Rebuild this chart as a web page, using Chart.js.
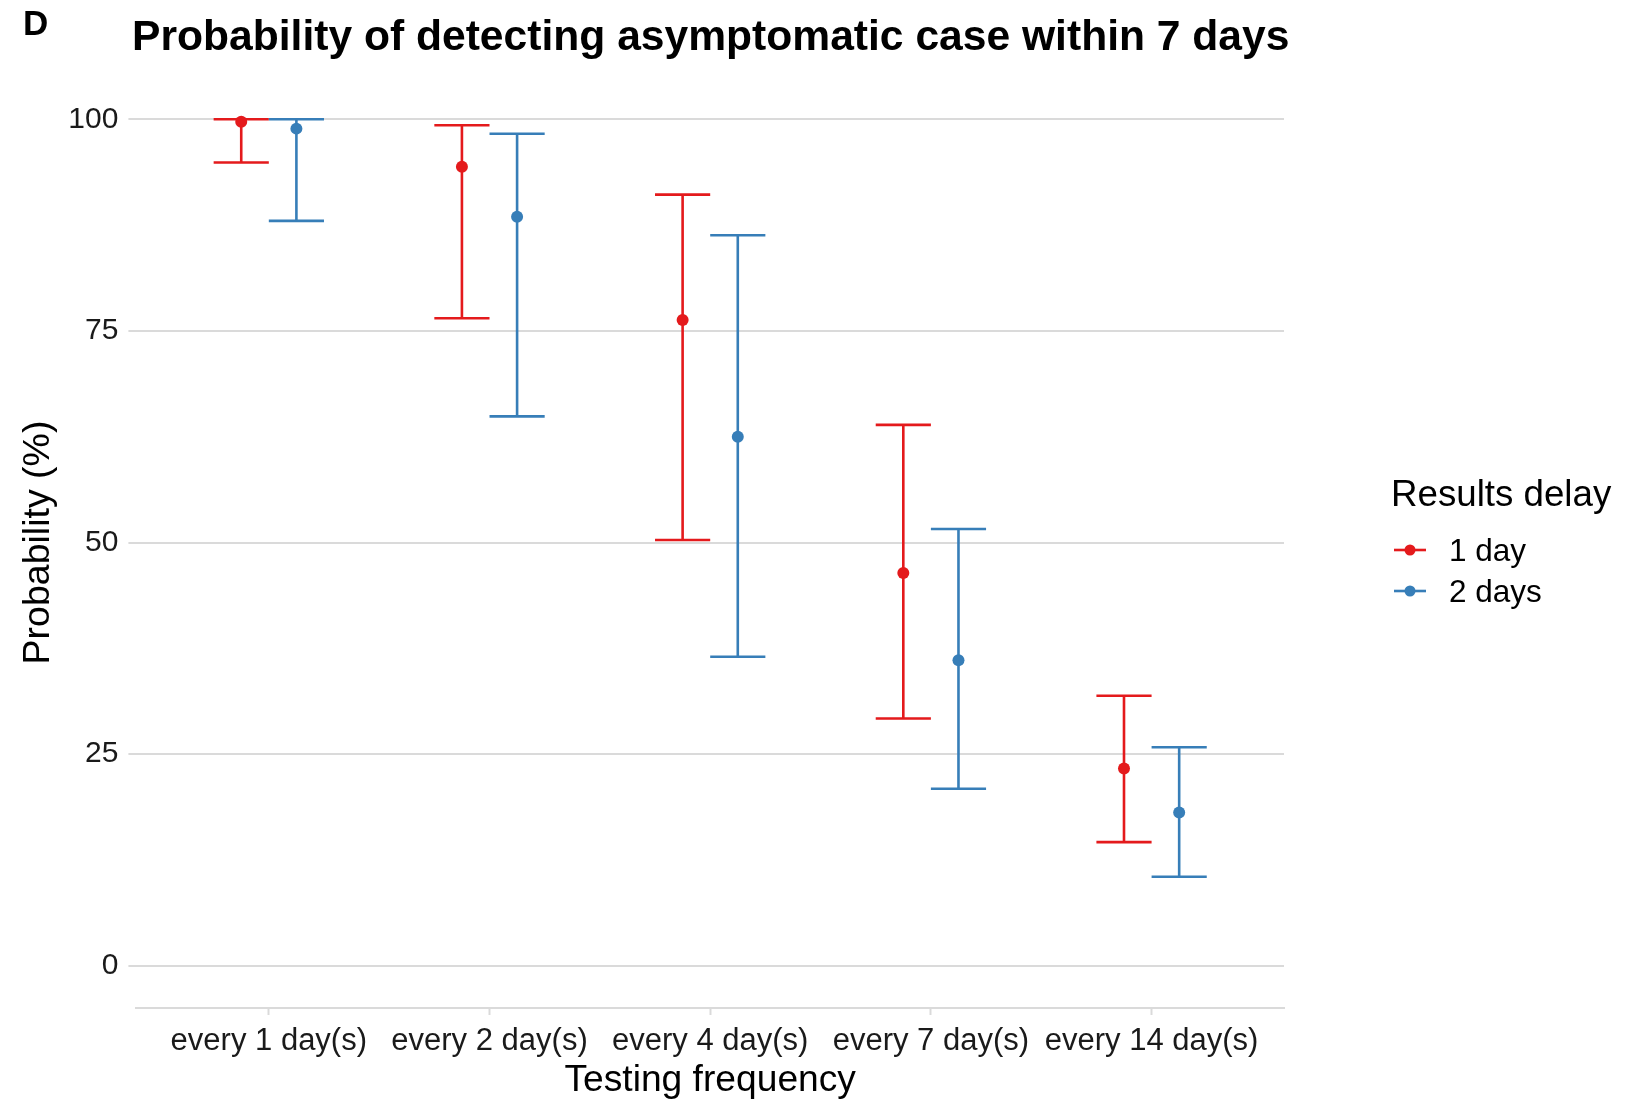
<!DOCTYPE html>
<html lang="en">
<head>
<meta charset="UTF-8">
<title>Probability of detecting asymptomatic case within 7 days</title>
<script src="https://cdn.jsdelivr.net/npm/chart.js"></script>
<style>
  body { margin: 0; background: #fff; }
  #wrap { width: 1642px; height: 1102px; }
</style>
</head>
<body>
<div id="wrap"><canvas id="chart" width="1642" height="1102"></canvas></div>
<script>
// testing frequency on x, two results-delay groups
const categories = ['every 1 day(s)', 'every 2 day(s)', 'every 4 day(s)', 'every 7 day(s)', 'every 14 day(s)'];
const delayLabels = ['1 day', '2 days'];
const oneDayMean = [99.7, 94.4, 76.3, 46.4, 23.3];
const oneDayLow = [94.9, 76.5, 50.3, 29.2, 14.6];
const oneDayHigh = [100, 99.3, 91.1, 63.9, 31.9];
const twoDayMean = [98.9, 88.5, 62.5, 36.1, 18.1];
const twoDayLow = [88.0, 64.9, 36.5, 20.9, 10.5];
const twoDayHigh = [100, 98.3, 86.3, 51.6, 25.8];
const yTicks = [0, 25, 50, 75, 100];

const RED = '#E41A1C';
const BLUE = '#377EB8';
const GRID = '#DADADA';
const FONT = "'Liberation Sans', Arial, sans-serif";
const dodge = 0.125;   // half of dodge width, in category units
const capHalf = 0.125; // error bar cap half width

function makePoints(mean, low, high, shift) {
    return mean.map((m, i) => ({ x: i + 1 + shift, y: m, lo: low[i], hi: high[i] }));
}

// error bars drawn under the points, through the chart scales
const errorBars = {
    id: 'errorBars',
    beforeDatasetsDraw(chart) {
        const { ctx, scales: { x, y } } = chart;
        ctx.save();
        ctx.lineWidth = 2.6;
        ctx.lineCap = 'butt';
        chart.data.datasets.forEach(ds => {
            ctx.strokeStyle = ds.backgroundColor;
            ds.data.forEach(p => {
                const xc = x.getPixelForValue(p.x);
                const xl = x.getPixelForValue(p.x - capHalf);
                const xr = x.getPixelForValue(p.x + capHalf);
                const yl = y.getPixelForValue(p.lo);
                const yh = y.getPixelForValue(p.hi);
                ctx.beginPath();
                ctx.moveTo(xl, yh); ctx.lineTo(xr, yh);
                ctx.moveTo(xc, yh); ctx.lineTo(xc, yl);
                ctx.moveTo(xl, yl); ctx.lineTo(xr, yl);
                ctx.stroke();
            });
        });
        ctx.restore();
    }
};

// title, tag, axis titles and legend
const decorations = {
    id: 'decorations',
    afterDraw(chart) {
        const { ctx, chartArea } = chart;
        ctx.save();
        ctx.fillStyle = '#000';
        ctx.textBaseline = 'alphabetic';
        ctx.textAlign = 'left';
        ctx.font = 'bold 35px ' + FONT;
        ctx.fillText('D', 23, 35);
        ctx.font = 'bold 42.6px ' + FONT;
        ctx.fillText('Probability of detecting asymptomatic case within 7 days', 132, 50);

        ctx.font = '37.2px ' + FONT;
        ctx.textAlign = 'center';
        ctx.textBaseline = 'middle';
        ctx.fillText('Testing frequency', (chartArea.left + chartArea.right) / 2, 1081);
        ctx.save();
        ctx.translate(39, (chartArea.top + chartArea.bottom) / 2);
        ctx.rotate(-Math.PI / 2);
        ctx.font = '37.5px ' + FONT;
        ctx.fillText('Probability (%)', 0, 0);
        ctx.restore();

        // legend
        ctx.textAlign = 'left';
        ctx.font = '36.7px ' + FONT;
        ctx.fillText('Results delay', 1391, 496);
        ctx.font = '31.5px ' + FONT;
        const rowsY = [550, 591];
        chart.data.datasets.forEach((ds, i) => {
            const yy = rowsY[i];
            ctx.strokeStyle = ds.backgroundColor;
            ctx.lineWidth = 2.6;
            ctx.beginPath();
            ctx.moveTo(1394, yy); ctx.lineTo(1426, yy);
            ctx.stroke();
            ctx.fillStyle = ds.backgroundColor;
            ctx.beginPath();
            ctx.arc(1410, yy, 5.5, 0, Math.PI * 2);
            ctx.fill();
            ctx.fillStyle = '#000';
            ctx.fillText(delayLabels[i], 1449, yy + 2);
        });
        ctx.restore();
    }
};

new Chart(document.getElementById('chart'), {
    type: 'scatter',
    data: {
        datasets: [
            { label: delayLabels[0], data: makePoints(oneDayMean, oneDayLow, oneDayHigh, -dodge),
              backgroundColor: RED, pointRadius: 6, borderWidth: 0 },
            { label: delayLabels[1], data: makePoints(twoDayMean, twoDayLow, twoDayHigh, dodge),
              backgroundColor: BLUE, pointRadius: 6, borderWidth: 0 }
        ]
    },
    options: {
        responsive: false,
        animation: false,
        layout: { padding: { left: 0, top: 77, right: 358, bottom: 0 } },
        plugins: { legend: { display: false }, tooltip: { enabled: false } },
        scales: {
            x: {
                type: 'linear',
                min: 0.4,
                max: 5.6,
                afterBuildTicks: s => { s.ticks = categories.map((c, i) => ({ value: i + 1 })); },
                afterFit: s => { s.height = 94; },
                ticks: {
                    callback: v => categories[v - 1],
                    color: '#1a1a1a',
                    font: { family: FONT, size: 31 },
                    padding: 8,
                    maxRotation: 0,
                    autoSkip: false
                },
                grid: { drawOnChartArea: false, drawTicks: true, tickLength: 7, tickColor: GRID, tickWidth: 2 },
                border: { display: true, color: GRID, width: 2 }
            },
            y: {
                min: -5,
                max: 105,
                afterBuildTicks: s => { s.ticks = yTicks.map(v => ({ value: v })); },
                afterFit: s => { s.width = 136.4; },
                ticks: {
                    color: '#1a1a1a',
                    font: { family: FONT, size: 30 },
                    padding: 10
                },
                grid: { color: GRID, lineWidth: 2, drawTicks: true, tickLength: 8 },
                border: { display: false }
            }
        }
    },
    plugins: [errorBars, decorations]
});
</script>
</body>
</html>
